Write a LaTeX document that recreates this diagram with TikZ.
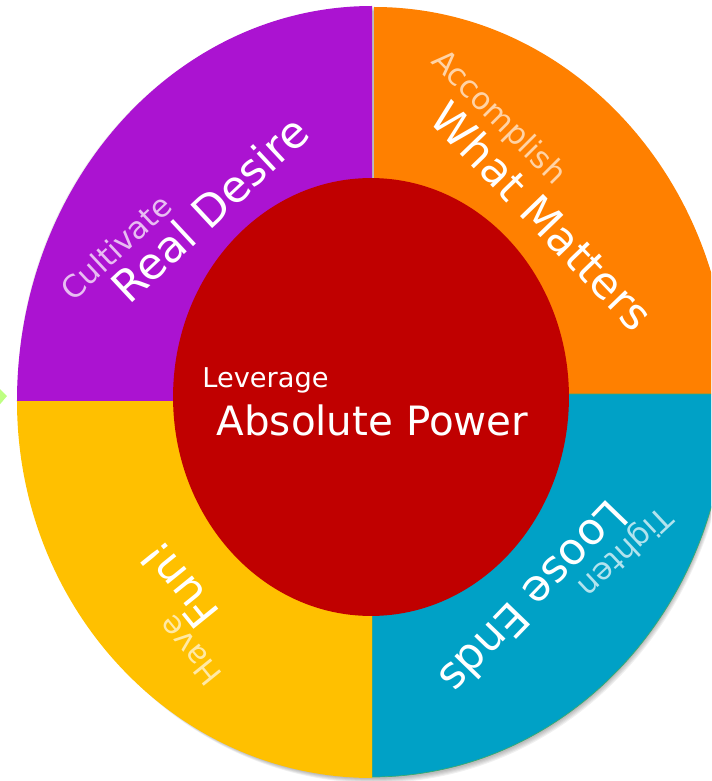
\documentclass[tikz,border=0pt]{standalone}
\usepackage{fontspec}
\setmainfont{DejaVu Sans}
\usepackage{tikz}
\usetikzlibrary{shapes.geometric,positioning}
\definecolor{qpurple}{RGB}{171,19,209}
\definecolor{qorange}{RGB}{255,128,0}
\definecolor{qblue}{RGB}{0,161,198}
\definecolor{qyellow}{RGB}{255,192,0}
\definecolor{qred}{RGB}{192,0,0}
\definecolor{qedge}{RGB}{60,170,110}
\definecolor{qarrow}{RGB}{190,255,130}
\tikzset{
    hub/.style={
    ellipse,fill=qred,minimum width=7.92cm,minimum height=8.76cm,inner sep=0pt
    },
    shade/.style={
    fill=black,opacity=0.06
    },
    biglabel/.style={text=white,font=\fontsize{25}{30}\selectfont,text height=18.2pt,text depth=0pt,inner sep=0pt},
    smalllabel/.style={font=\fontsize{17.5}{21}\selectfont,text height=12.8pt,text depth=0pt,inner sep=0pt},
    levlabel/.style={text=white,font=\fontsize{15.5}{19}\selectfont,inner sep=0pt},
    powlabel/.style={text=white,font=\fontsize{23}{28}\selectfont,inner sep=0pt}
}

\begin{document}
\begin{tikzpicture}[x=0.02cm,y=0.02cm]
    \useasboundingbox (-372,-384) rectangle (339,397);
    \clip (-372,-384) rectangle (339,397);

    % soft shadow under the ring
    \foreach \d in {1,2,3,4,5}
      \fill[shade] (0.6*\d,5-\d) ellipse[x radius=355,y radius=386];

    % the four quarters
    \fill[qpurple] (0,-4) -- (-355,-4) arc[start angle=180,end angle=90,x radius=355,y radius=395] -- cycle;
    \fill[qorange] (2,3) -- (2,390) arc[start angle=90,end angle=0,x radius=355,y radius=387] -- cycle;
    \filldraw[fill=qblue,draw=qedge,line width=0.4pt] (0,3) -- (355,3) arc[start angle=0,end angle=-90,x radius=355,y radius=383] -- cycle;
    \fill[qyellow] (0,-4) -- (0,-381) arc[start angle=270,end angle=180,x radius=355,y radius=377] -- cycle;

    \fill[qarrow] (-376,12) -- (-365,1) -- (-376,-12) -- cycle;

    \node[hub] (hub) at (-1,0) {};
    \node[levlabel,anchor=base west] (leverage) at (-170,10) {Leverage};
    \node[powlabel,anchor=base] (power) at (0.5,-38) {Absolute Power};

    \node[smalllabel,text=white!72!qpurple,rotate=43] (cultivate) at (-256,150) {Cultivate};
    \node[biglabel,rotate=43] (desire) at (-162,188) {Real Desire};

    \node[smalllabel,text=white!65!qorange,rotate=-45] (accomplish) at (128,281) {Accomplish};
    \node[biglabel,rotate=-46] (matters) at (170,181) {What Matters};

    \node[smalllabel,text=white!70!qblue,rotate=223] (tighten) at (254,-156) {Tighten};
    \node[biglabel,rotate=226] (ends) at (162,-201) {Loose Ends};

    \node[smalllabel,text=white!65!qyellow,rotate=129] (have) at (-182,-254) {Have};
    \node[biglabel,rotate=129] (fun) at (-193,-188) {Fun!};
\end{tikzpicture}
\end{document}
